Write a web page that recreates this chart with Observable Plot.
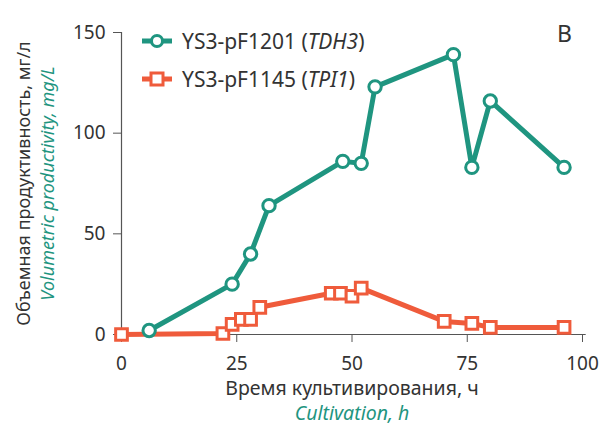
<!DOCTYPE html>
<html>
<head>
<meta charset="utf-8">
<script src="https://cdn.jsdelivr.net/npm/d3@7"></script>
<script src="https://cdn.jsdelivr.net/npm/@observablehq/plot@0.6"></script>
<style>
  body { margin: 0; background: #fff; }
  #wrap { position: relative; width: 600px; height: 437px; font-family: "Noto Sans", sans-serif; }
  .leg { position: absolute; left: 140px; display: flex; align-items: center; font-size: 21px; color: #333; white-space: nowrap; }
  .leg svg { margin-right: 8px; }
  #B { position: absolute; left: 557px; top: 17px; font-size: 23px; color: #333; }
</style>
</head>
<body>
<div id="wrap"></div>
<script>
const teal = "#1f9580";
const orange = "#ef5b3b";

const tdh3Hours = [6, 24, 28, 32, 48, 52, 55, 72, 76, 80, 96];
const tdh3Values = [2, 25, 40, 64, 86, 85, 123, 139, 83, 116, 83];

const tpi1Hours = [0, 22, 24, 26, 28, 30, 45.5, 47.5, 50, 52, 70, 76, 80, 96];
const tpi1Values = [0, 0.5, 5, 7.5, 7.5, 13.5, 20.5, 20.5, 19, 23, 6.5, 5.5, 3.5, 3.5];

const xTicks = [0, 25, 50, 75, 100];
const yTicks = [0, 50, 100, 150];

const tdh3 = tdh3Hours.map((h, i) => ({h, v: tdh3Values[i]}));
const tpi1 = tpi1Hours.map((h, i) => ({h, v: tpi1Values[i]}));

const chart = Plot.plot({
  width: 600,
  height: 437,
  marginLeft: 121,
  marginRight: 18,
  marginTop: 32,
  marginBottom: 103,
  style: {fontFamily: "Noto Sans, sans-serif", fontSize: "19px", color: "#333", background: "transparent"},
  x: {domain: [0, 100]},
  y: {domain: [0, 150]},
  marks: [
    Plot.ruleY([0], {x1: 0, x2: 100.8, stroke: "#555", strokeWidth: 1.2}),
    Plot.ruleX([0], {y1: 0, y2: 150, stroke: "#555", strokeWidth: 1.2}),
    Plot.axisX({ticks: xTicks, tickSize: 8, tickPadding: 14, label: null, stroke: "#555", fill: "#333", fontSize: 19}),
    Plot.axisY({ticks: yTicks, tickSize: 8, tickPadding: 8, label: null, stroke: "#555", fill: "#333", fontSize: 19}),
    Plot.line(tpi1, {x: "h", y: "v", stroke: orange, strokeWidth: 5}),
    Plot.dot(tpi1, {x: "h", y: "v", symbol: "square", r: 6.6, fill: "white", stroke: orange, strokeWidth: 3}),
    Plot.line(tdh3, {x: "h", y: "v", stroke: teal, strokeWidth: 5}),
    Plot.dot(tdh3, {x: "h", y: "v", r: 6.2, fill: "white", stroke: teal, strokeWidth: 3}),
    Plot.text(["Время культивирования, ч"], {frameAnchor: "bottom", dy: 60, fill: "#333", fontSize: 19.5}),
    Plot.text(["Cultivation, h"], {frameAnchor: "bottom", dy: 85, fill: teal, fontSize: 19.5, fontStyle: "italic"}),
    Plot.text(["Объемная продуктивность, мг/л"], {frameAnchor: "left", textAnchor: "middle", dx: -97, rotate: -90, fill: "#333", fontSize: 18}),
    Plot.text(["Volumetric productivity, mg/L"], {frameAnchor: "left", textAnchor: "middle", dx: -73, rotate: -90, fill: teal, fontSize: 18, fontStyle: "italic"})
  ]
});

const wrap = document.getElementById("wrap");
wrap.appendChild(chart);

function legendItem(top, color, marker, html) {
  const d = document.createElement("div");
  d.className = "leg";
  d.style.top = (top - 14) + "px";
  const m = marker === "circle"
    ? `<circle cx="17" cy="14" r="5.5" fill="white" stroke="${color}" stroke-width="3"/>`
    : `<rect x="11" y="8" width="12" height="12" fill="white" stroke="${color}" stroke-width="3"/>`;
  d.innerHTML = `<svg width="34" height="28"><line x1="2" x2="32" y1="14" y2="14" stroke="${color}" stroke-width="5"/>${m}</svg><span>${html}</span>`;
  wrap.appendChild(d);
}
legendItem(41, teal, "circle", "YS3-pF1201 (<i>TDH3</i>)");
legendItem(79, orange, "square", "YS3-pF1145 (<i>TPI1</i>)");

const b = document.createElement("div");
b.id = "B";
b.textContent = "B";
wrap.appendChild(b);
</script>
</body>
</html>
